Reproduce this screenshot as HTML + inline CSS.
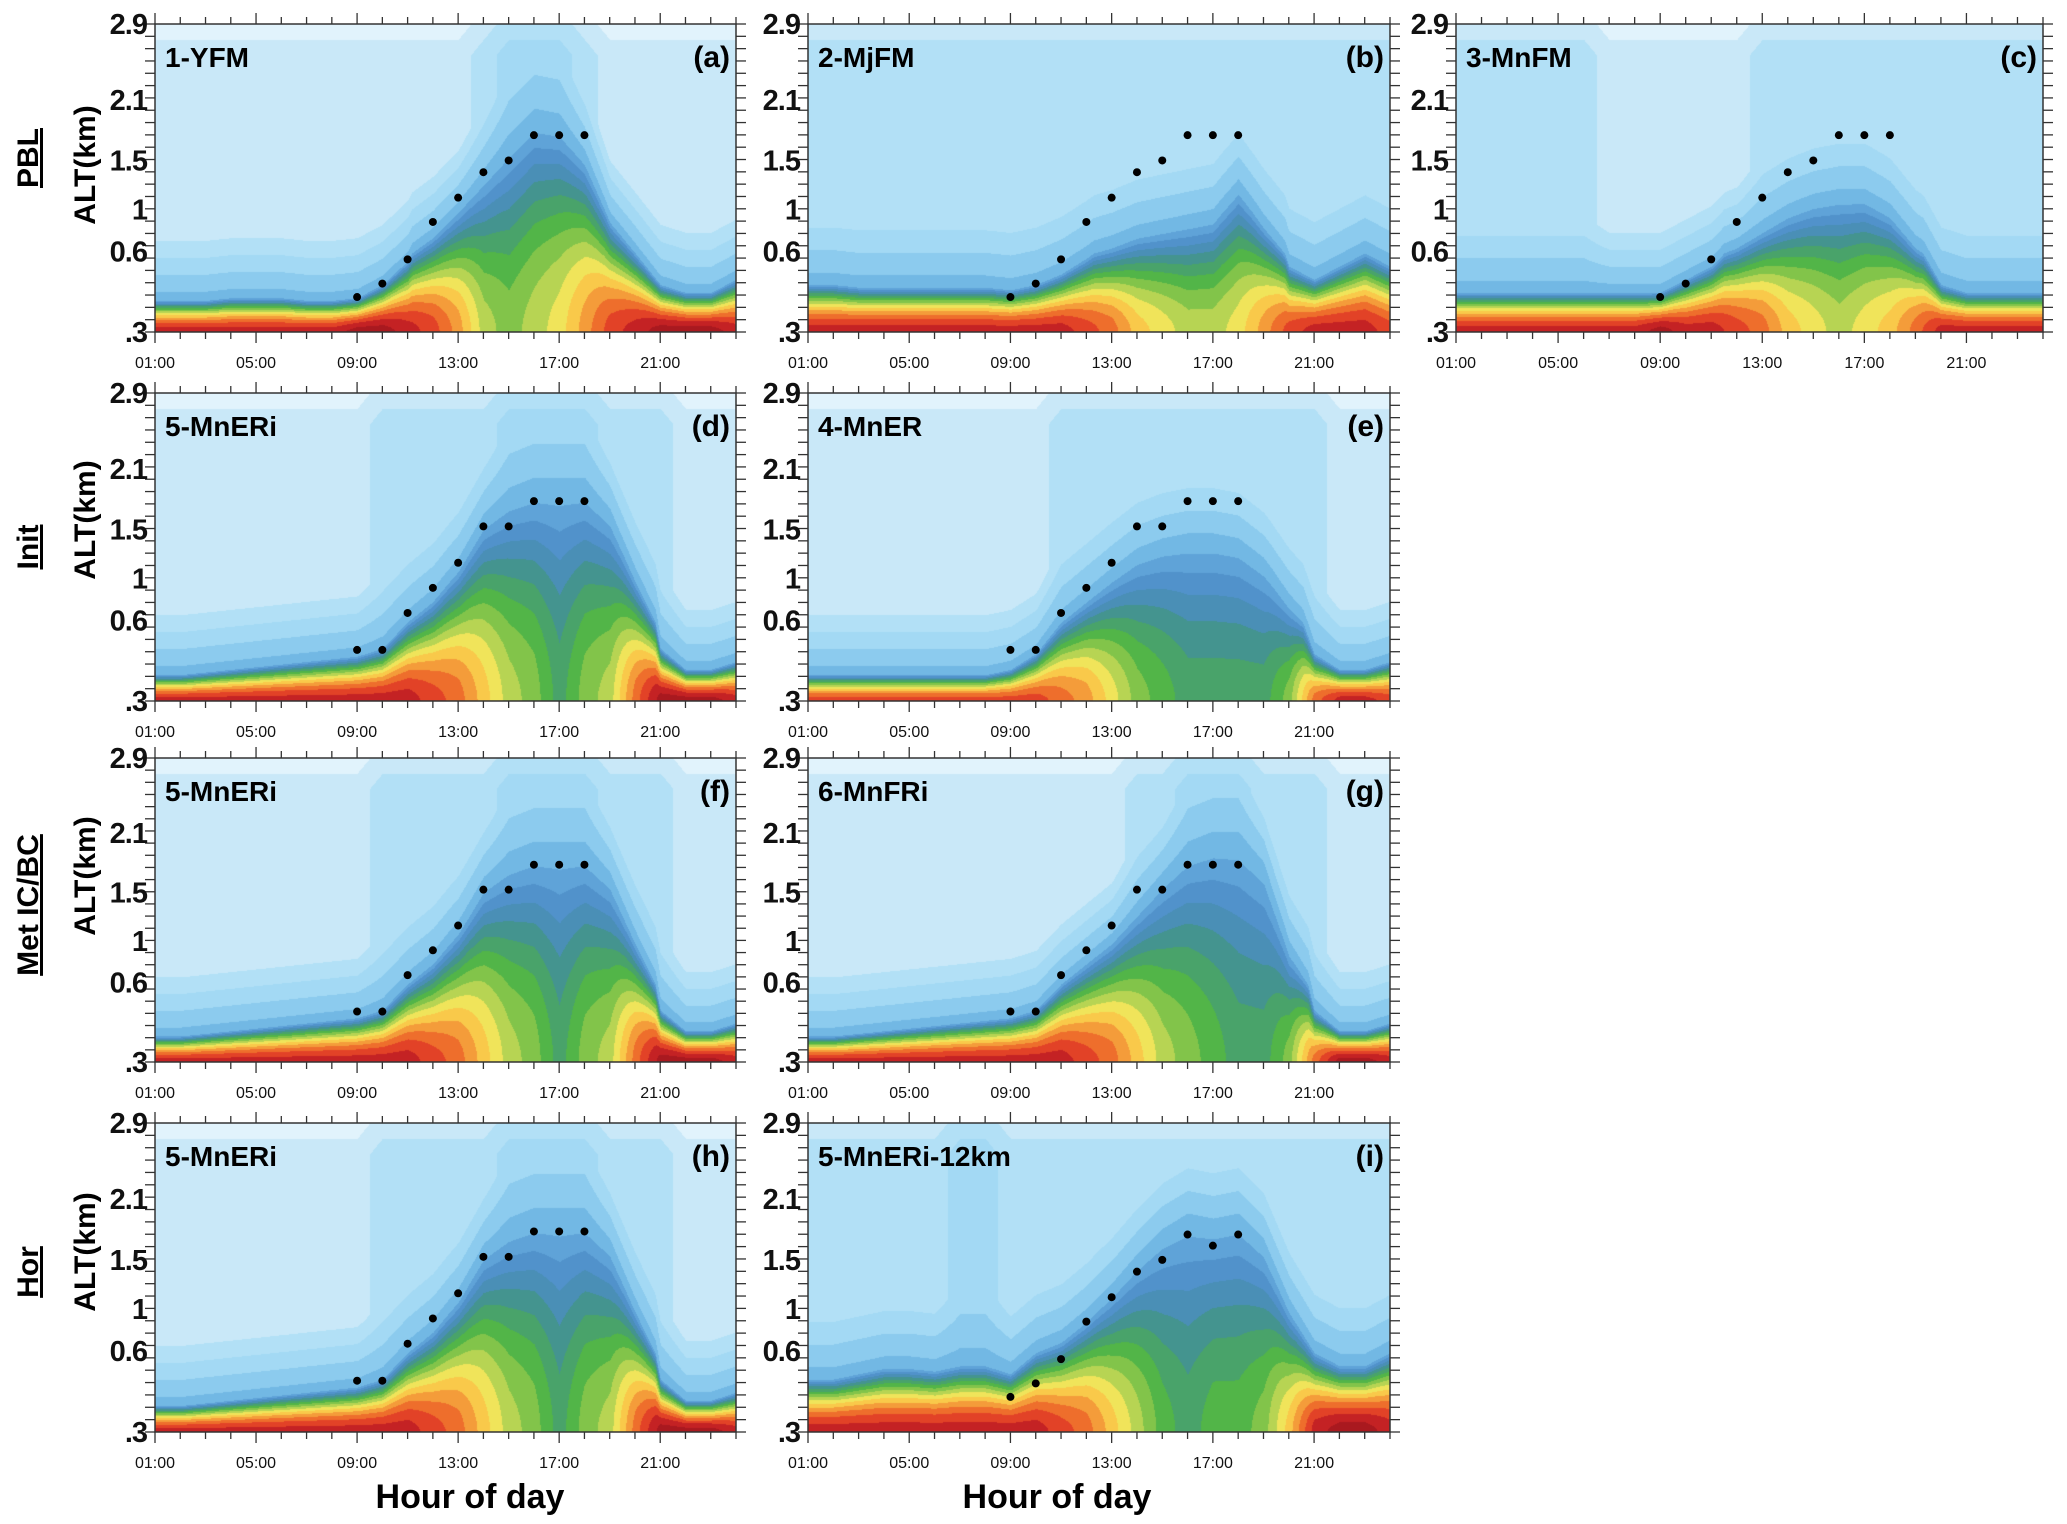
<!DOCTYPE html>
<html>
<head>
<meta charset="utf-8">
<style>
  html,body{margin:0;padding:0;background:#fff;}
  #root{position:relative;width:2067px;height:1524px;overflow:hidden;background:#fff;}
  canvas{position:absolute;}
  svg{position:absolute;left:0;top:0;}
</style>
</head>
<body>
<div id="root">
<svg id="ov" width="2067" height="1524"></svg>
</div>
<script>
// ---------- data (hours 1..24) ----------
const hours = [1,2,3,4,5,6,7,8,9,10,11,12,13,14,15,16,17,18,19,20,21,22,23,24];
const xTickLabels = ["01:00","05:00","09:00","13:00","17:00","21:00"];
const xTickHours = [1,5,9,13,17,21];
const yTickLabels = ["2.9","2.1","1.5","1","0.6",".3"];
const yTickKm = [2.9,2.1,1.5,1,0.6,0.3];
const yTickFrac = [1,0.754,0.557,0.398,0.262,0];
const pblHours = [9,10,11,12,13,14,15,16,17,18];

const surfA = [19,19,19,19,19,19,19,19,20,20,19,18,16,13,12,13,14,16,18,19,20,20,20,19];
const topA  = [0.42,0.42,0.42,0.43,0.43,0.43,0.42,0.42,0.43,0.48,0.57,0.75,1.0,1.3,1.6,1.85,1.8,1.5,0.9,0.6,0.48,0.45,0.45,0.5];
const bgA   = [1,1,1,1,1,1,1,1,1,1,1,1,1,2,3,3,3,2,1,1,1,1,1,1];

const surfB = [19,19,19,19,19,19,19,19,19,19,19,18,17,15,14,13,13,14,16,18,19,19,19,18];
const topB  = [0.48,0.48,0.47,0.47,0.47,0.47,0.47,0.47,0.46,0.48,0.52,0.58,0.65,0.75,0.8,0.85,0.9,1.2,0.85,0.55,0.5,0.55,0.6,0.55];
const bgB   = [2,2,2,2,2,2,2,2,2,2,2,2,2,2,2,2,2,2,2,2,2,2,2,2];

const surfC = [19,19,19,19,19,19,19,19,20,19,19,18,17,15,14,13,14,15,17,19,19,19,19,19];
const topC  = [0.45,0.45,0.45,0.45,0.45,0.45,0.45,0.45,0.45,0.5,0.55,0.65,0.8,0.95,1.05,1.1,1.1,0.95,0.65,0.48,0.45,0.45,0.45,0.45];
const bgC   = [2,2,2,2,2,2,1,1,1,1,1,1,2,2,2,2,2,2,2,2,2,2,2,2];

const surfD = [19,19,19,19,19,19,19,19,19,19,19,18,17,15,13,12,10,12,13,17,20,20,20,19];
const topD  = [0.4,0.4,0.41,0.42,0.43,0.44,0.45,0.46,0.47,0.5,0.6,0.8,1.1,1.55,1.75,1.85,1.85,1.85,1.6,1.0,0.5,0.42,0.42,0.45];
const bgD   = [1,1,1,1,1,1,1,1,1,2,2,2,2,2,3,3,3,3,2,2,2,1,1,1];

const surfE = [18,18,18,18,18,18,18,18,18,18,17,16,14,12,11,10,10,10,10,12,17,19,19,18];
const topE  = [0.4,0.4,0.4,0.4,0.4,0.4,0.4,0.4,0.42,0.48,0.6,0.8,1.0,1.2,1.3,1.35,1.35,1.3,1.1,0.75,0.48,0.42,0.42,0.45];
const bgE   = [1,1,1,1,1,1,1,1,1,1,2,2,2,2,2,2,2,2,2,2,2,1,1,1];

const surfG = [19,19,19,19,19,19,19,19,19,19,19,18,17,15,13,12,11,10,10,12,17,20,20,19];
const topG  = [0.4,0.4,0.41,0.42,0.43,0.44,0.45,0.46,0.47,0.5,0.6,0.8,1.0,1.3,1.6,1.85,1.95,1.95,1.7,0.9,0.5,0.42,0.42,0.45];
const bgG   = [1,1,1,1,1,1,1,1,1,1,1,1,1,2,2,3,3,3,2,2,2,1,1,1];

const surfI = [19,19,19,19,19,19,19,19,19,19,18,17,15,13,11,10,11,11,12,15,19,20,20,19];
const topI  = [0.5,0.5,0.52,0.54,0.54,0.53,0.55,0.55,0.52,0.6,0.7,0.9,1.15,1.45,1.7,1.85,1.8,1.85,1.6,1.0,0.6,0.55,0.55,0.6];
const bgI   = [2,2,2,2,2,2,3,3,2,2,2,2,2,2,2,2,2,2,2,2,2,2,2,2];

const pblABC = [0.43,0.48,0.57,0.88,1.12,1.38,1.5,1.75,1.75,1.75];
const pblD   = [0.49,0.49,0.67,0.91,1.16,1.53,1.53,1.78,1.78,1.78];
const pblI   = [0.43,0.48,0.57,0.88,1.12,1.38,1.5,1.75,1.64,1.75];

const palette = ["#e1f3fc","#c9e8f8","#b2e0f6","#a3d9f4","#8ccbee","#72b8e4","#5fa3d8","#5192cb","#4a8fb6","#44948f",
  "#49a36a","#52b548","#82c44a","#b7d453","#f0e45a","#f9c94a","#f49c3a","#ee6e2c","#e24227","#c42224","#a9191f"];

// ---------- layout ----------
const panels = [
  {id:"a",name:"1-YFM",x:155,y:24,w:581,h:308,surf:surfA,top:topA,bg:bgA,pbl:pblABC},
  {id:"b",name:"2-MjFM",x:808,y:24,w:582,h:308,surf:surfB,top:topB,bg:bgB,pbl:pblABC},
  {id:"c",name:"3-MnFM",x:1456,y:24,w:587,h:308,surf:surfC,top:topC,bg:bgC,pbl:pblABC},
  {id:"d",name:"5-MnERi",x:155,y:393,w:581,h:308,surf:surfD,top:topD,bg:bgD,pbl:pblD},
  {id:"e",name:"4-MnER",x:808,y:393,w:582,h:308,surf:surfE,top:topE,bg:bgE,pbl:pblD},
  {id:"f",name:"5-MnERi",x:155,y:758,w:581,h:304,surf:surfD,top:topD,bg:bgD,pbl:pblD},
  {id:"g",name:"6-MnFRi",x:808,y:758,w:582,h:304,surf:surfG,top:topG,bg:bgG,pbl:pblD},
  {id:"h",name:"5-MnERi",x:155,y:1123,w:581,h:309,surf:surfD,top:topD,bg:bgD,pbl:pblD},
  {id:"i",name:"5-MnERi-12km",x:808,y:1123,w:582,h:309,surf:surfI,top:topI,bg:bgI,pbl:pblI}
];

function kmToFrac(km){
  const k=yTickKm.slice().reverse(), f=yTickFrac.slice().reverse();
  if(km<=k[0]) return 0;
  for(let i=1;i<k.length;i++){ if(km<=k[i]) return f[i-1]+(km-k[i-1])/(k[i]-k[i-1])*(f[i]-f[i-1]); }
  return 1;
}
function interp(arr,h){
  const t=Math.max(0,Math.min(arr.length-1,h-1)); const i=Math.floor(t); const j=Math.min(arr.length-1,i+1); const r=t-i;
  return arr[i]*(1-r)+arr[j]*r;
}
function hex(c){return [parseInt(c.slice(1,3),16),parseInt(c.slice(3,5),16),parseInt(c.slice(5,7),16)];}
const palRGB = palette.map(hex);

const root=document.getElementById('root');
const svg=document.getElementById('ov');
const NS="http://www.w3.org/2000/svg";
function mk(tag,attrs,parent){const e=document.createElementNS(NS,tag);for(const k in attrs)e.setAttribute(k,attrs[k]);(parent||svg).appendChild(e);return e;}

panels.forEach(p=>{
  const cv=document.createElement('canvas');
  cv.width=p.w; cv.height=p.h; cv.style.left=p.x+'px'; cv.style.top=p.y+'px';
  
  
  root.insertBefore(cv,svg);
  const ctx=cv.getContext('2d'); const img=ctx.createImageData(p.w,p.h); const d=img.data;
  for(let x=0;x<p.w;x++){
    const hr=1+x/p.w*23;
    const s=interp(p.surf,hr), ut=kmToFrac(interp(p.top,hr)), bg=interp(p.bg,hr);
    for(let y=0;y<p.h;y++){
      const u=1-y/p.h; let v;
      if(u<ut) v=s+(5-s)*Math.pow(u/ut,1.8);
      else { const dd=Math.min(1,(u-ut)/0.22); v=5-(5-bg)*dd; }
      if(u>0.9) v-= (u-0.9)/0.1;
      let idx=Math.max(0,Math.min(20,Math.round(v)));
      const c=palRGB[idx]; const o=(y*p.w+x)*4;
      d[o]=c[0];d[o+1]=c[1];d[o+2]=c[2];d[o+3]=255;
    }
  }
  ctx.putImageData(img,0,0);

  const g=mk('g',{});
  
  
  const px=h=>p.x+(h-1)/23*p.w;
  const py=km=>p.y+p.h*(1-kmToFrac(km));
  const fr=mk('rect',{x:p.x,y:p.y,width:p.w,height:p.h,fill:'none',stroke:'#333','stroke-width':1.5},g);
  
  
  hours.forEach(h=>{
    const major=((h-1)%4===0);
    const L=major?11:7;
    mk('line',{x1:px(h),x2:px(h),y1:p.y,y2:p.y-L,stroke:'#333','stroke-width':1.3},g);
    mk('line',{x1:px(h),x2:px(h),y1:p.y+p.h,y2:p.y+p.h+L,stroke:'#333','stroke-width':1.3},g);
  });
  for(let k=0;k<=25;k++){
    const yy=p.y+p.h*k/25;
    mk('line',{x1:p.x,x2:p.x-10,y1:yy,y2:yy,stroke:'#333','stroke-width':1.3},g);
    mk('line',{x1:p.x+p.w,x2:p.x+p.w+10,y1:yy,y2:yy,stroke:'#333','stroke-width':1.3},g);
  }
  xTickLabels.forEach((lab,i)=>{
    const t=mk('text',{x:px(xTickHours[i]),y:p.y+p.h+36,'font-family':'Liberation Sans, sans-serif','font-size':16,'text-anchor':'middle',fill:'#111'},g);
    t.textContent=lab;
    
    
  });
  yTickLabels.forEach((lab,i)=>{
    const t=mk('text',{x:p.x-8,y:py(yTickKm[i])+10,'font-family':'Liberation Sans, sans-serif','font-size':29,'font-weight':'bold','text-anchor':'end',fill:'#111','letter-spacing':-1},g);
    t.textContent=lab;
    
    
  });
  p.pbl.forEach((km,i)=>{
    const c=mk('circle',{cx:px(pblHours[i]),cy:py(km),r:4,fill:'#000'},g);
    
    
  });
  const tt=mk('text',{x:p.x+10,y:p.y+43,'font-family':'Liberation Sans, sans-serif','font-size':28,'font-weight':'bold',fill:'#000'},g);
  tt.textContent=p.name;
  
  
  const tl=mk('text',{x:p.x+p.w-6,y:p.y+43,'font-family':'Liberation Sans, sans-serif','font-size':30,'font-weight':'bold','text-anchor':'end',fill:'#000'},g);
  tl.textContent='('+p.id+')';
  
  
});

const rowLabels=["PBL","Init","Met IC/BC","Hor"];
const rowCenters=[158,547,905,1272];
const altCenters=[165,520,876,1252];
rowLabels.forEach((lab,i)=>{
  const t=mk('text',{x:0,y:0,transform:`translate(38,${rowCenters[i]}) rotate(-90)`,'font-family':'Liberation Sans, sans-serif','font-size':30,'font-weight':'bold','text-anchor':'middle','text-decoration':'underline',fill:'#000'});
  t.textContent=lab;
  
  
  const a=mk('text',{x:0,y:0,transform:`translate(95,${altCenters[i]}) rotate(-90)`,'font-family':'Liberation Sans, sans-serif','font-size':30,'font-weight':'bold','text-anchor':'middle',fill:'#000'});
  a.textContent='ALT(km)';
  
  
});
[470,1057].forEach(cx=>{
  const t=mk('text',{x:cx,y:1508,'font-family':'Liberation Sans, sans-serif','font-size':34,'font-weight':'bold','text-anchor':'middle',fill:'#000'});
  t.textContent='Hour of day';
  
  
});
</script>
</body>
</html>
